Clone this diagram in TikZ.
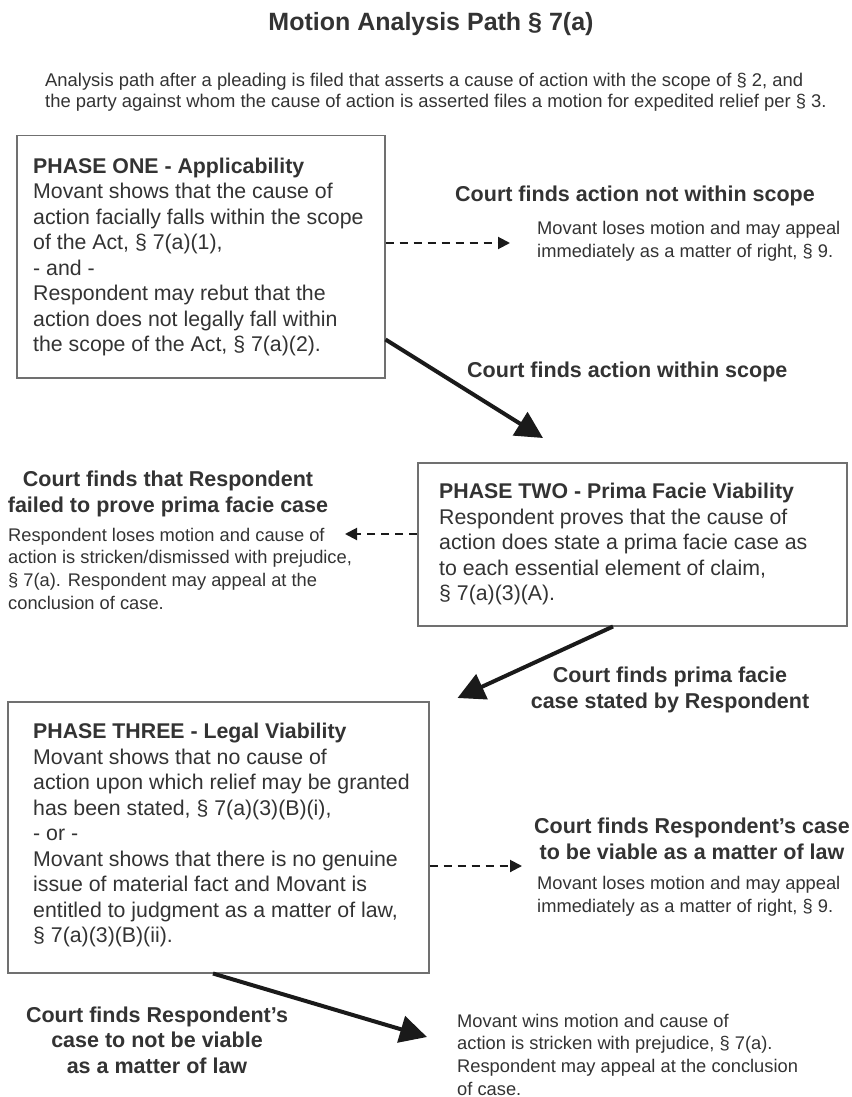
\documentclass[tikz,border=0pt]{standalone}
\usepackage{fontspec}
\setmainfont{Liberation Sans}
\usetikzlibrary{arrows.meta,calc}
\definecolor{txt}{HTML}{333333}
\definecolor{frame}{HTML}{707070}
\definecolor{arr}{HTML}{1A1A1A}
\newcommand{\MyBodyF}{\fontsize{21.3pt}{25.5pt}\selectfont}
\newcommand{\MySmallF}{\fontsize{18.3pt}{22.6pt}\selectfont}
\newcommand{\MyLblF}{\fontsize{21.5pt}{25.5pt}\selectfont\bfseries}
\newcommand{\MyTitleF}{\fontsize{25pt}{30pt}\selectfont\bfseries}
\begin{document}
\begin{tikzpicture}[x=1pt,y=-1pt,
  every node/.style={inner sep=0pt,text=txt},
  phasebox/.style={draw=frame,line width=1.5pt,fill=white,anchor=north west,inner sep=0pt},
  boxtext/.style={anchor=west,align=left,font=\MyBodyF},
  lbl/.style={align=center,font=\MyLblF,anchor=base},
  lblw/.style={align=left,font=\MyLblF,anchor=base west},
  note/.style={align=left,font=\MySmallF,anchor=base west},
  thickarrow/.style={draw=arr,line width=4pt,-{Triangle[length=27pt,width=27pt]}},
  dasharrow/.style={draw=arr,line width=2pt,dash pattern=on 8pt off 6pt,-{Triangle[length=12pt,width=12pt]}}]
\useasboundingbox (0,0) rectangle (851,1097);
\fill[white] (0,0) rectangle (851,1097);

% title and subtitle (multi-line nodes: base = last line)
\node[font=\MyTitleF,anchor=base] (title) at (431,31) {Motion Analysis Path § 7(a)};
\node[note,font=\fontsize{18.4pt}{21.5pt}\selectfont] (sub) at (45,108)
  {Analysis path after a pleading is filed that asserts a cause of action with the scope of § 2, and\\
   the party against whom the cause of action is asserted files a motion for expedited relief per § 3.};

% phase boxes
\node[phasebox,minimum width=368pt,minimum height=242pt] (p1) at (16,135) {};
\node[boxtext] (p1t) at ($(p1.west)+(17,0)$)
  {\textbf{PHASE ONE - Applicability}\\
   Movant shows that the cause of\\
   action facially falls within the scope\\
   of the Act, § 7(a)(1),\\
   - and -\\
   Respondent may rebut that the\\
   action does not legally fall within\\
   the scope of the Act, § 7(a)(2).};

\node[phasebox,minimum width=429pt,minimum height=163pt] (p2) at (417,462) {};
\node[boxtext] (p2t) at ($(p2.west)+(22,0)$)
  {\textbf{PHASE TWO - Prima Facie Viability}\\
   Respondent proves that the cause of\\
   action does state a prima facie case as\\
   to each essential element of claim,\\
   § 7(a)(3)(A).};

\node[phasebox,minimum width=421pt,minimum height=271pt] (p3) at (7,701) {};
\node[boxtext] (p3t) at ($(p3.west)+(26,-2)$)
  {\textbf{PHASE THREE - Legal Viability}\\
   Movant shows that no cause of\\
   action upon which relief may be granted\\
   has been stated, § 7(a)(3)(B)(i),\\
   - or -\\
   Movant shows that there is no genuine\\
   issue of material fact and Movant is\\
   entitled to judgment as a matter of law,\\
   § 7(a)(3)(B)(ii).};

% outcome labels and notes
\node[lblw] (l1) at (455,201) {Court finds action not within scope};
\node[note] (n1) at (537,257) {Movant loses motion and may appeal\\immediately as a matter of right, § 9.};

\node[lblw] (l2) at (467,377) {Court finds action within scope};

\node[lbl] (l3) at (168,512) {Court finds that Respondent\\failed to prove prima facie case};
\node[note] (n3) at (8,609) {Respondent loses motion and cause of\\action is stricken/dismissed with prejudice,\\§ 7(a). Respondent may appeal at the\\conclusion of case.};

\node[lbl] (l4) at (670,708) {Court finds prima facie\\case stated by Respondent};

\node[lbl] (l5) at (692,859) {Court finds Respondent’s case\\to be viable as a matter of law};
\node[note] (n5) at (537,912) {Movant loses motion and may appeal\\immediately as a matter of right, § 9.};

\node[lbl] (l6) at (157,1073) {Court finds Respondent’s\\case to not be viable\\as a matter of law};
\node[note] (n6) at (457,1095) {Movant wins motion and cause of\\action is stricken with prejudice, § 7(a).\\Respondent may appeal at the conclusion\\of case.};

% connector end points
\coordinate (e1) at (510,243);
\coordinate (e2) at (345,534);
\coordinate (e3) at (522,866);
\coordinate (e6) at (427,1037);

% dashed arrows
\draw[dasharrow] (p1.east |- e1) -- (e1);
\draw[dasharrow] (p2.west |- e2) -- (e2);
\draw[dasharrow] (p3.east |- e3) -- (e3);

% thick arrows
\draw[thickarrow] ($(p1.south east)+(0,-39)$) -- ($(p2.north west)+(126,-24)$);
\draw[thickarrow] ($(p2.south west)+(196,0)$) -- ($(p3.north east)+(28,-3)$);
\draw[thickarrow] ($(p3.south west)+(206,0)$) -- (e6);
\end{tikzpicture}
\end{document}
